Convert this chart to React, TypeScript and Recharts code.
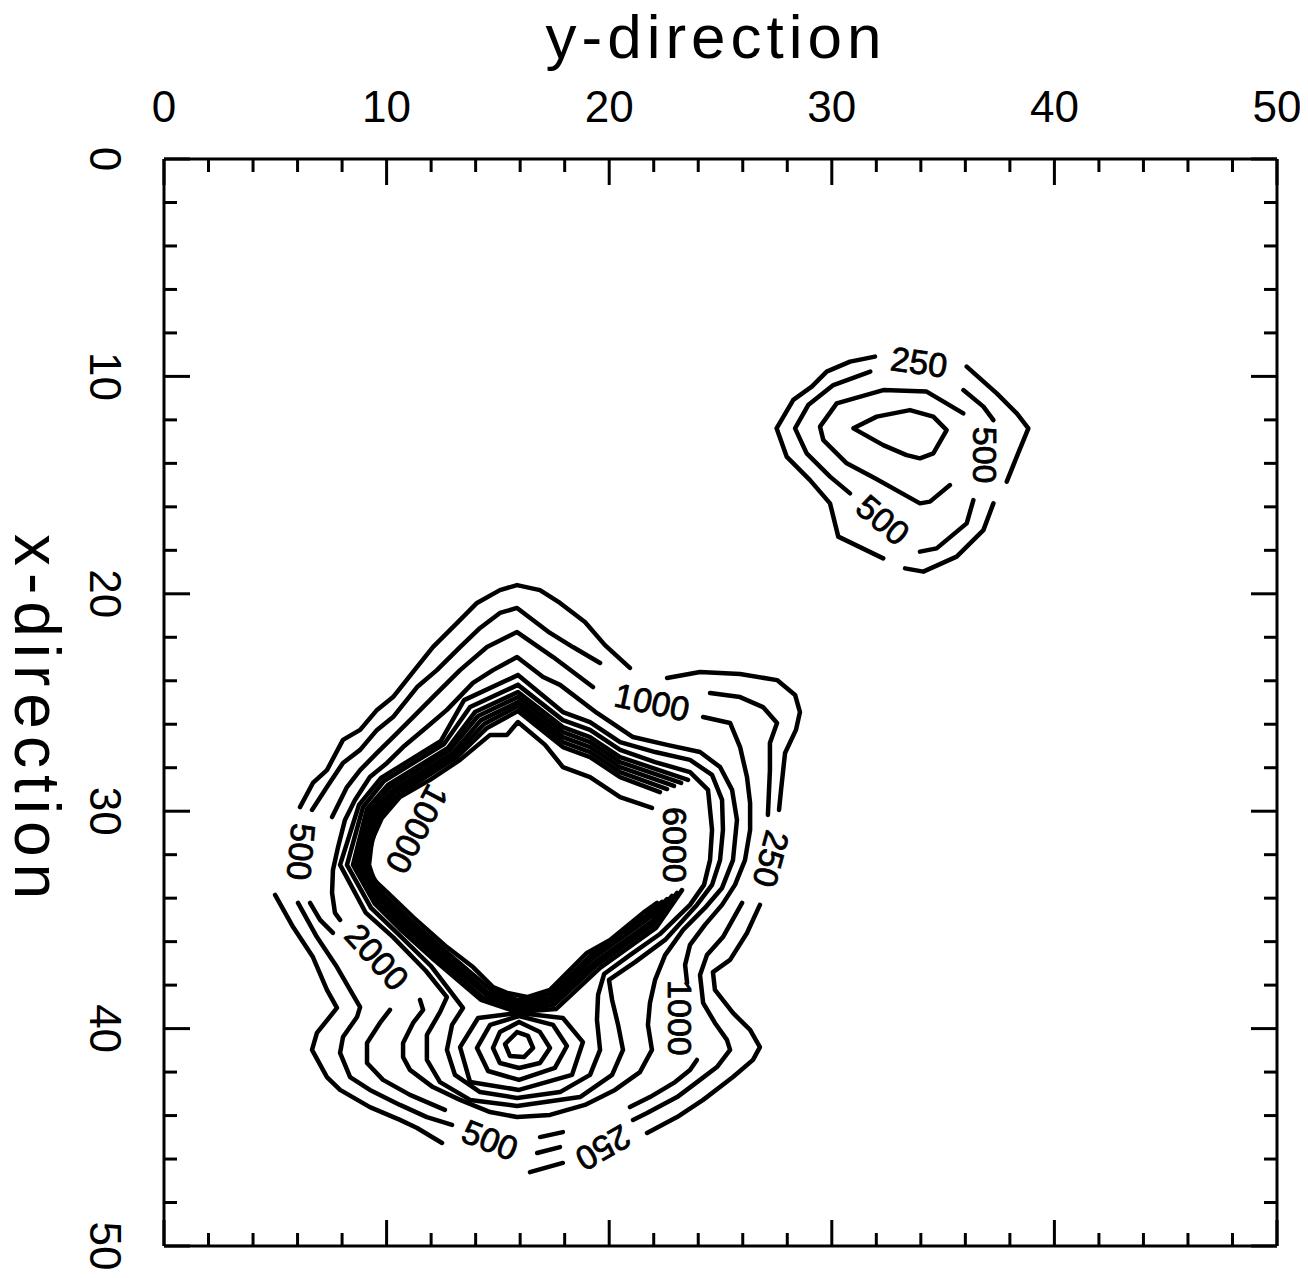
import React from "react";
import { ScatterChart, Scatter, XAxis, YAxis } from "recharts";

type Pt = [number, number]; // [y-direction, x-direction]

// axis ticks
const axisTicks = [0, 2, 4, 6, 8, 10, 12, 14, 16, 18, 20, 22, 24, 26, 28, 30, 32, 34, 36, 38, 40, 42, 44, 46, 48, 50];
const labelledTicks = [0, 10, 20, 30, 40, 50];

// small peak near (33, 12.5), outer to inner; each ring split where labels sit
const smallRing1: Pt[][] = [
  [[36.06, 9.55], [37.41, 10.78], [38.31, 11.7], [38.83, 12.39], [38.31, 13.69], [37.86, 14.84]],
  [[37.26, 15.84], [36.81, 17.07], [35.61, 18.29], [34.11, 18.98], [33.29, 18.83]],
  [[32.31, 18.37], [30.29, 17.37], [29.92, 15.84], [29.02, 14.77], [27.97, 13.69], [27.52, 12.39], [28.27, 11.08], [29.1, 10.47], [29.77, 9.78], [30.82, 9.32], [31.94, 9.09]],
];
const smallRing2: Pt[][] = [
  [[31.73, 9.78], [30.07, 10.4], [28.94, 11.32], [28.35, 12.39], [28.87, 13.54], [29.92, 14.61], [30.82, 15.38]],
  [[33.96, 18.06], [34.71, 17.91], [36.06, 16.76], [36.36, 15.69]],
  [[37.26, 12.01], [36.81, 11.39], [35.91, 10.63]],
];
const smallRing3: Pt[][] = [
  [[35.91, 11.7], [34.26, 10.7], [32.31, 10.63], [30.22, 11.24], [29.47, 12.31], [29.62, 12.93], [30.67, 14.0], [31.94, 14.69], [33.96, 15.84], [34.41, 15.76], [35.31, 15.0]],
];
const smallRing4: Pt[][] = [
  [[30.97, 12.39], [32.02, 11.85], [33.51, 11.55], [34.56, 11.85], [35.16, 12.47], [34.56, 13.54], [33.96, 13.77], [33.36, 13.62], [32.31, 13.16], [30.97, 12.39]],
];

// big structure: rings around plateau + secondary peak
const bigRing1: Pt[][] = [
  [[22.6, 23.87], [24.08, 23.6], [25.88, 23.69], [27.54, 23.97], [28.35, 24.65], [28.57, 25.44], [28.39, 26.26], [27.9, 27.32], [27.72, 29.02], [27.63, 29.94]],
  [[26.77, 34.31], [26.19, 35.6], [25.43, 36.84], [24.66, 37.4], [24.75, 38.22], [25.56, 39.28], [26.33, 40.06], [26.77, 40.85], [26.46, 41.44], [25.56, 42.23], [24.22, 43.28], [23.05, 44.07], [21.7, 44.8]],
  [[17.92, 46.18], [16.44, 46.6]],
  [[12.49, 45.26], [11.37, 44.57], [10.6, 44.2], [9.25, 43.61], [7.91, 42.82], [7.32, 42.23], [6.65, 40.98], [6.87, 40.2], [7.77, 39.05], [7.32, 38.22], [6.69, 36.71], [5.8, 35.33], [4.99, 33.85]],
  [[6.11, 29.81], [6.69, 28.7], [7.32, 28.11], [8.04, 26.72], [8.81, 26.26], [9.57, 25.34], [10.29, 24.75], [11.37, 23.36], [12.08, 22.45], [13.16, 21.35], [14.06, 20.42], [15.09, 19.83], [15.86, 19.6], [16.89, 19.83], [17.79, 20.42], [18.91, 21.3], [19.81, 22.36], [20.93, 23.41]],
];
const bigRing2: Pt[][] = [
  [[24.53, 24.56], [25.88, 24.75], [26.91, 25.21], [27.54, 25.94], [27.22, 26.86], [27.22, 28.11], [27.13, 30.17]],
  [[25.97, 34.22], [25.11, 35.79], [24.39, 36.62], [24.08, 37.53], [24.22, 38.82], [24.75, 39.74], [25.29, 40.52], [25.43, 40.98], [24.84, 41.77], [24.08, 42.36], [23.05, 43.15], [21.7, 43.88], [21.07, 44.2]],
  [[17.79, 45.45], [16.76, 45.72]],
  [[12.94, 44.43], [11.81, 44.07], [10.6, 43.51], [9.25, 42.82], [8.36, 42.23], [7.91, 41.12], [8.04, 40.39], [8.67, 39.47], [8.81, 39.01], [8.36, 38.22], [7.77, 37.17], [6.87, 35.79], [6.02, 34.22]],
  [[6.65, 29.94], [7.32, 28.89], [8.04, 27.78], [8.81, 27.18], [9.57, 26.26], [10.29, 25.67], [11.37, 24.29], [12.26, 23.51], [13.3, 22.45], [14.2, 21.57], [15.09, 20.88], [15.86, 20.65], [17.34, 21.8], [18.37, 22.45], [19.59, 23.18]],
];
const bigRing3: Pt[][] = [
  [[24.22, 25.67], [25.43, 25.94], [25.88, 27.05], [26.19, 28.43], [26.33, 29.62], [26.33, 30.86], [26.1, 32.25], [25.65, 33.39], [25.07, 34.31], [24.3, 35.23], [23.63, 36.15], [23.41, 37.07], [23.5, 37.9]],
  [[23.94, 41.44], [23.63, 41.9], [22.96, 42.46], [21.83, 43.15], [20.93, 43.61]],
  [[17.92, 44.76], [16.89, 44.99]],
  [[12.62, 43.74], [11.05, 43.05], [9.84, 42.36], [9.12, 41.58], [9.12, 40.66], [9.7, 39.74], [10.15, 39.14]],
  [[7.59, 35.6], [7.01, 35.0], [6.56, 34.22]],
  [[7.55, 30.27], [8.22, 28.89], [8.81, 28.11], [9.57, 27.32], [10.29, 26.59], [11.19, 25.67], [12.08, 24.75], [13.3, 23.51], [14.51, 22.45], [15.86, 21.76], [17.48, 22.91], [19.27, 24.29]],
];
const bigRing4: Pt[][] = [
  [[11.5, 38.68], [11.64, 39.14], [11.19, 39.74], [10.74, 40.66], [10.74, 41.31], [11.05, 41.9], [12.08, 42.69], [13.3, 43.28], [14.65, 43.84], [15.86, 44.07], [17.34, 43.97], [18.91, 43.51], [20.26, 42.82], [21.38, 42.0], [21.92, 40.98], [21.74, 39.83], [21.83, 38.82], [22.06, 37.76], [22.51, 36.62], [23.32, 35.46], [24.3, 34.45], [25.07, 33.53], [25.56, 32.25], [25.74, 30.4], [25.52, 29.02], [24.98, 27.97], [24.08, 27.28], [22.6, 26.95], [21.07, 26.59], [19.45, 25.48], [17.79, 24.19], [17.03, 23.83], [15.86, 22.91], [14.78, 23.51], [13.88, 24.1], [12.71, 25.34], [11.81, 26.13], [10.74, 27.05], [10.02, 27.78], [9.25, 28.43], [8.58, 29.48], [8.13, 30.4], [7.82, 31.65], [7.59, 32.7], [7.55, 33.76], [7.68, 34.68], [7.91, 35.0]],
];
const bigRing5: Pt[][] = [
  [[15.9, 23.74], [17.92, 25.44], [19.14, 25.9], [20.49, 26.82], [22.06, 27.28], [23.63, 27.64], [24.62, 28.33], [25.07, 29.48], [25.11, 30.86], [24.98, 32.25], [24.62, 33.39], [23.94, 34.31], [22.51, 35.92], [21.16, 36.94], [19.99, 37.76], [20.13, 38.68], [20.4, 39.83], [20.62, 40.98], [20.13, 42.13], [18.69, 43.15], [15.86, 43.56], [13.75, 43.28], [12.4, 42.46], [11.81, 41.44], [11.81, 40.29], [12.4, 39.24], [12.71, 38.55], [11.77, 37.35], [10.29, 35.79], [9.07, 34.68], [7.91, 32.47], [8.76, 29.71], [9.75, 28.47], [12.44, 26.77], [13.48, 24.89], [15.9, 23.74]],
];
const bigRing6: Pt[][] = [
  [[15.9, 24.19], [17.92, 25.81], [19.14, 26.26], [20.49, 27.18], [22.06, 27.74], [23.63, 28.2], [24.44, 29.02], [24.62, 30.86], [24.53, 32.25], [24.26, 33.39], [23.63, 34.31], [22.28, 35.65], [20.93, 36.62], [19.77, 37.49], [19.5, 38.45], [19.45, 39.6], [19.59, 40.98], [19.14, 42.13], [17.79, 42.92], [15.86, 43.19], [14.2, 42.92], [13.07, 42.13], [12.71, 40.98], [12.94, 39.83], [13.43, 39.05], [11.99, 37.12], [10.47, 35.6], [9.3, 34.45], [8.22, 32.47], [8.94, 29.81], [9.88, 28.61], [12.58, 26.91], [13.75, 25.21], [15.9, 24.19]],
];

// tight band round the plateau, open on the east where "6000" sits
const bandRing1: Pt[][] = [
  [[23.54, 28.56], [20.49, 27.51], [19.14, 26.59], [17.92, 26.13], [15.9, 24.52], [13.97, 25.44], [12.76, 27.09], [10.06, 28.79], [9.12, 29.9], [8.49, 32.47], [9.48, 34.27], [10.6, 35.42], [12.13, 36.84], [14.24, 38.68], [15.86, 39.24], [17.61, 39.1], [19.59, 37.21], [22.1, 35.37], [23.27, 33.63]],
];
const bandRing2: Pt[][] = [
  [[23.23, 28.7], [20.49, 27.74], [19.14, 26.82], [17.92, 26.36], [15.9, 24.75], [14.11, 25.62], [12.85, 27.18], [10.15, 28.89], [9.25, 29.99], [8.67, 32.47], [9.57, 34.17], [10.74, 35.33], [12.26, 36.75], [14.33, 38.59], [15.86, 39.1], [17.52, 38.91], [19.45, 37.07], [21.97, 35.23], [23.05, 33.76]],
];
const bandRing3: Pt[][] = [
  [[22.91, 28.84], [20.49, 27.97], [19.14, 27.05], [17.92, 26.59], [15.9, 24.98], [14.24, 25.81], [12.98, 27.32], [10.29, 29.02], [9.39, 30.08], [8.81, 32.47], [9.7, 34.04], [10.83, 35.19], [12.35, 36.62], [14.47, 38.45], [15.86, 38.96], [17.48, 38.73], [19.36, 36.94], [21.88, 35.1], [22.82, 33.9]],
];
const bandRing4: Pt[][] = [
  [[22.6, 28.98], [20.49, 28.2], [19.14, 27.28], [17.92, 26.82], [15.9, 25.16], [14.38, 25.99], [13.07, 27.41], [10.38, 29.12], [9.52, 30.13], [8.94, 32.47], [9.79, 33.95], [10.96, 35.1], [12.49, 36.52], [14.56, 38.36], [15.86, 38.82], [17.43, 38.59], [19.23, 36.8], [21.74, 34.96], [22.6, 34.04]],
];
const bandRing5: Pt[][] = [
  [[22.28, 29.12], [20.49, 28.43], [19.14, 27.51], [17.92, 27.05], [15.9, 25.39], [14.51, 26.17], [13.16, 27.51], [10.51, 29.25], [9.66, 30.22], [9.07, 32.47], [9.88, 33.85], [11.05, 35.0], [12.58, 36.38], [14.69, 38.22], [15.86, 38.68], [17.39, 38.41], [19.14, 36.66], [21.65, 34.82], [22.37, 34.17]],
];
const plateauEdge: Pt[][] = [
  [[21.92, 29.85], [20.49, 29.35], [19.14, 28.43], [17.92, 27.97], [17.12, 26.95], [15.9, 25.9], [15.41, 26.49], [14.65, 26.49], [13.3, 27.64], [11.95, 28.56], [10.6, 29.35], [9.79, 30.31], [9.34, 31.33], [9.21, 32.47], [9.43, 33.16], [10.02, 33.72], [11.19, 34.87], [12.71, 36.25], [13.88, 37.17], [14.78, 38.09], [15.41, 38.36], [16.31, 38.55], [17.34, 38.22], [17.79, 37.76], [19.0, 36.52], [20.04, 35.92], [21.52, 34.68], [22.15, 34.22]],
];

// secondary peak near (16, 40.7), outer to inner
const peakRing4: Pt[][] = [
  [[15.95, 39.28], [17.92, 39.51], [18.82, 40.62], [18.33, 42.13], [15.95, 42.82], [13.75, 42.46], [13.3, 40.85], [14.11, 39.51], [15.95, 39.28]],
];
const peakRing3: Pt[][] = [
  [[15.95, 39.42], [17.48, 39.83], [18.1, 40.8], [17.56, 41.81], [15.95, 42.36], [14.56, 41.95], [14.06, 40.89], [14.65, 39.83], [15.95, 39.42]],
];
const peakRing2: Pt[][] = [
  [[15.95, 39.7], [16.89, 40.16], [17.34, 40.89], [16.89, 41.58], [15.95, 41.81], [15.09, 41.58], [14.78, 40.89], [15.09, 40.16], [15.95, 39.7]],
];
const peakRing1: Pt[][] = [
  [[15.86, 40.16], [16.35, 40.34], [16.58, 40.89], [16.17, 41.31], [15.54, 41.26], [15.32, 40.71], [15.86, 40.16]],
];

const contourLabels = [
  { text: "250", u: 33.92, v: 9.34, angle: 8 },
  { text: "500", u: 36.88, v: 13.62, angle: 90 },
  { text: "500", u: 32.3, v: 16.6, angle: 40 },
  { text: "1000", u: 21.92, v: 24.98, angle: 12 },
  { text: "250", u: 27.27, v: 32.2, angle: 105 },
  { text: "6000", u: 22.96, v: 31.55, angle: 90 },
  { text: "10000", u: 11.37, v: 30.82, angle: 118 },
  { text: "500", u: 6.16, v: 31.87, angle: 95 },
  { text: "2000", u: 9.57, v: 36.7, angle: 48 },
  { text: "500", u: 14.65, v: 45.12, angle: 22 },
  { text: "250", u: 19.73, v: 45.49, angle: 150 },
  { text: "1000", u: 23.18, v: 39.51, angle: 90 },
];

const allRings: Pt[][][] = [
  smallRing1, smallRing2, smallRing3, smallRing4,
  bigRing1, bigRing2, bigRing3, bigRing4, bigRing5, bigRing6,
  bandRing1, bandRing2, bandRing3, bandRing4, bandRing5, plateauEdge,
  peakRing4, peakRing3, peakRing2, peakRing1,
];
const contourPieces = allRings.flat().map((piece) => piece.map(([u, v]) => ({ u, v })));

const FONT = "'Liberation Sans', Arial, Helvetica, sans-serif";
const INK = "#000";

const isMajor = (value: number) => labelledTicks.includes(value);

const TopTick = (props: any) => {
  const { x, y, payload } = props;
  const major = isMajor(payload.value);
  return (
    <g>
      <line x1={x} y1={y} x2={x} y2={y + (major ? 26 : 13)} stroke={INK} strokeWidth={3} />
      {major && (
        <text x={x} y={y - 37} textAnchor="middle" fontSize={44} fontFamily={FONT} fill={INK}>
          {payload.value}
        </text>
      )}
    </g>
  );
};

const BottomTick = (props: any) => {
  const { x, y, payload } = props;
  const len = isMajor(payload.value) ? 26 : 13;
  return <line x1={x} y1={y} x2={x} y2={y - len} stroke={INK} strokeWidth={3} />;
};

const LeftTick = (props: any) => {
  const { x, y, payload } = props;
  const major = isMajor(payload.value);
  return (
    <g>
      <line x1={x} y1={y} x2={x + (major ? 26 : 13)} y2={y} stroke={INK} strokeWidth={3} />
      {major && (
        <text
          transform={`translate(${x - 74}, ${y}) rotate(90)`}
          textAnchor="middle"
          fontSize={44}
          fontFamily={FONT}
          fill={INK}
        >
          {payload.value}
        </text>
      )}
    </g>
  );
};

const RightTick = (props: any) => {
  const { x, y, payload } = props;
  const len = isMajor(payload.value) ? 26 : 13;
  return <line x1={x} y1={y} x2={x - len} y2={y} stroke={INK} strokeWidth={3} />;
};

const noMarker = () => <g />;

const renderLabel = (props: any) => {
  const { cx, cy, payload } = props;
  return (
    <text
      x={cx}
      y={cy}
      transform={`rotate(${payload.angle} ${cx} ${cy})`}
      textAnchor="middle"
      dominantBaseline="central"
      fontSize={34}
      fontFamily={FONT}
      fill={INK}
      stroke={INK}
      strokeWidth={0.8}
    >
      {payload.text}
    </text>
  );
};

const axisLine = { stroke: INK, strokeWidth: 3 };
const contourLine = { stroke: INK, strokeWidth: 4.5, strokeLinejoin: "round", strokeLinecap: "round" } as any;

export default function App() {
  // chart spans the whole page: cancel the body margin
  return (
    <div style={{ width: 1308, height: 1278, margin: "-8px 0 0 -8px", background: "#fff" }}>
      <ScatterChart width={1308} height={1278} margin={{ top: 158, right: 30, bottom: 31, left: 163 }}>
        <XAxis
          xAxisId="top"
          orientation="top"
          type="number"
          dataKey="u"
          domain={[0, 50]}
          ticks={axisTicks}
          interval={0}
          allowDataOverflow
          height={1}
          tickSize={0}
          tickMargin={0}
          tickLine={false}
          axisLine={axisLine}
          tick={TopTick}
          label={{
            value: "y-direction",
            content: () => (
              <text x={716} y={58} textAnchor="middle" fontSize={62} letterSpacing={5} fontFamily={FONT} fill={INK}>
                y-direction
              </text>
            ),
          }}
        />
        <XAxis
          xAxisId="bottom"
          orientation="bottom"
          type="number"
          dataKey="u"
          domain={[0, 50]}
          ticks={axisTicks}
          interval={0}
          allowDataOverflow
          height={1}
          tickSize={0}
          tickMargin={0}
          tickLine={false}
          axisLine={axisLine}
          tick={BottomTick}
        />
        <YAxis
          yAxisId="left"
          orientation="left"
          type="number"
          dataKey="v"
          domain={[0, 50]}
          reversed
          ticks={axisTicks}
          interval={0}
          allowDataOverflow
          width={1}
          tickSize={0}
          tickMargin={0}
          tickLine={false}
          axisLine={axisLine}
          tick={LeftTick}
          label={{
            value: "x-direction",
            content: () => (
              <text
                transform="translate(15, 720) rotate(90)"
                textAnchor="middle"
                fontSize={64}
                letterSpacing={7}
                fontFamily={FONT}
                fill={INK}
              >
                x-direction
              </text>
            ),
          }}
        />
        <YAxis
          yAxisId="right"
          orientation="right"
          type="number"
          dataKey="v"
          domain={[0, 50]}
          reversed
          ticks={axisTicks}
          interval={0}
          allowDataOverflow
          width={1}
          tickSize={0}
          tickMargin={0}
          tickLine={false}
          axisLine={axisLine}
          tick={RightTick}
        />
        {contourPieces.map((piece, i) => (
          <Scatter
            key={i}
            xAxisId="top"
            yAxisId="left"
            data={piece}
            line={contourLine}
            lineJointType="linear"
            shape={noMarker}
            fill="none"
            isAnimationActive={false}
          />
        ))}
        <Scatter
          xAxisId="bottom"
          yAxisId="right"
          data={contourLabels}
          shape={renderLabel}
          isAnimationActive={false}
        />
      </ScatterChart>
    </div>
  );
}
